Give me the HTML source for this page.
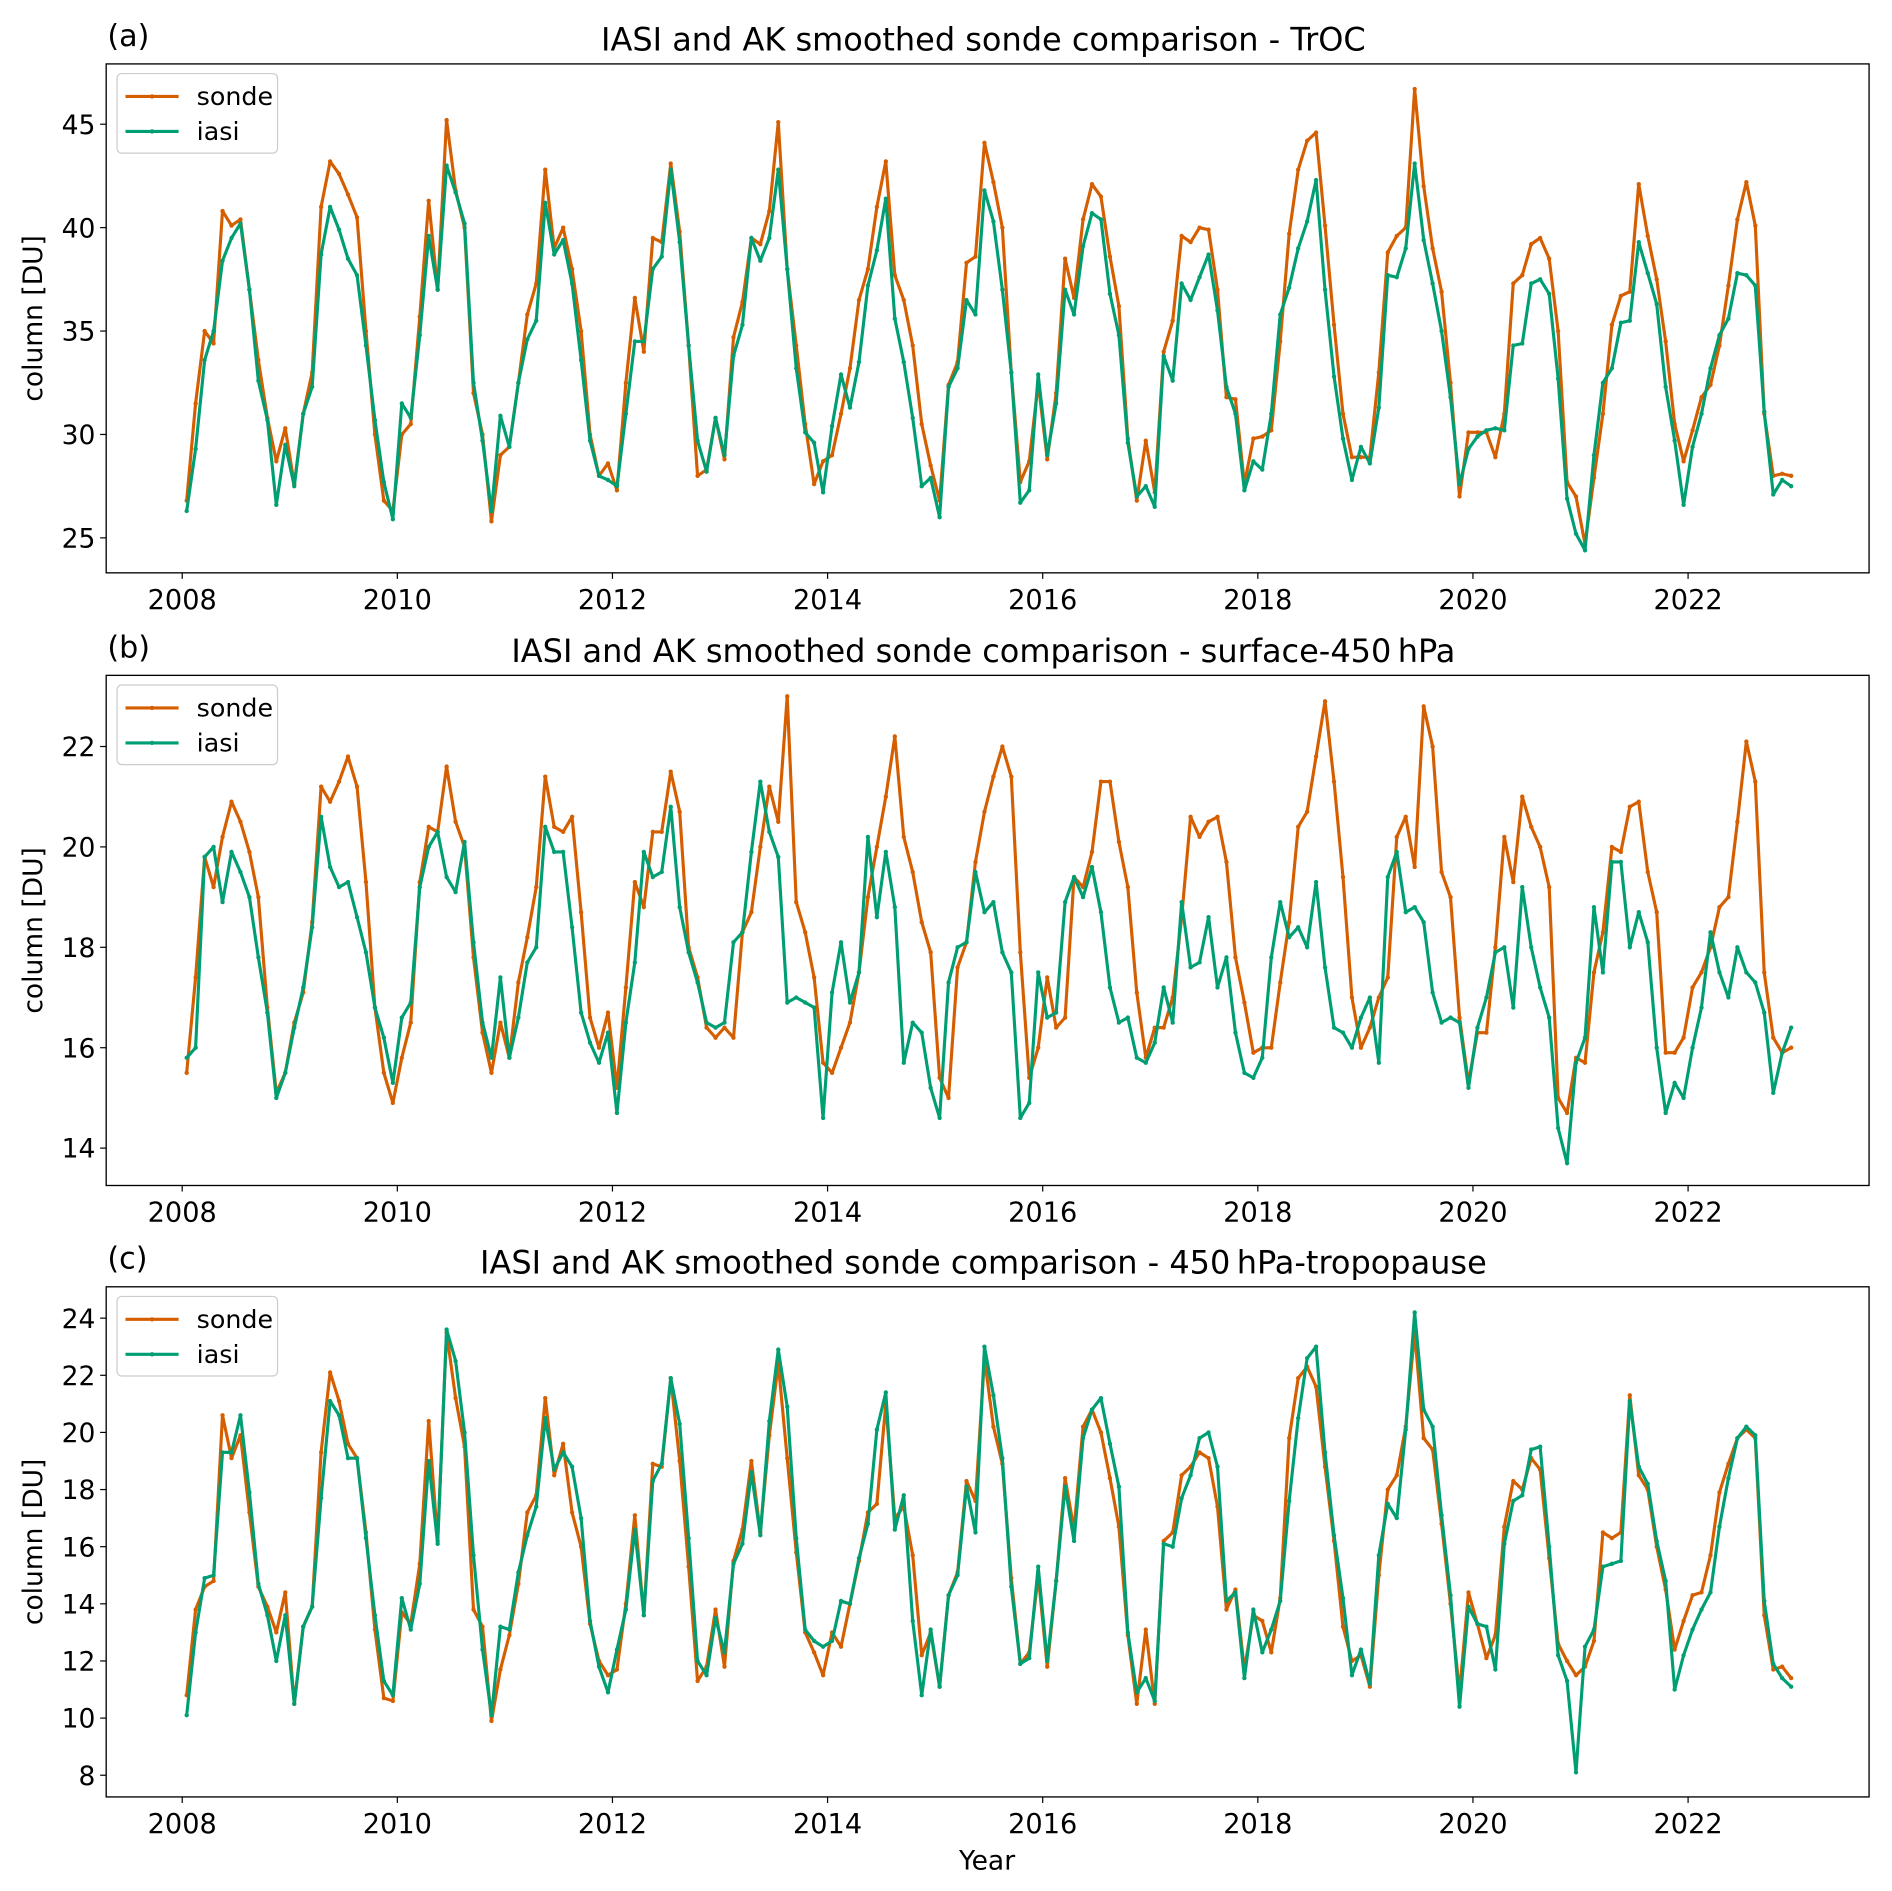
<!DOCTYPE html>
<html><head><meta charset="utf-8"><style>
html,body{margin:0;padding:0;background:#fff}
svg{display:block}
text{font-family:"DejaVu Sans","Liberation Sans",sans-serif;fill:#000}
</style></head><body>
<svg id="fig" width="1892" height="1891" viewBox="0 0 1568 1568" preserveAspectRatio="none" xmlns="http://www.w3.org/2000/svg"></svg>
<script>
const years = [2008,2010,2012,2014,2016,2018,2020,2022];
const startYear = 2008;
const troTicks = [25,30,35,40,45];
const surfTicks = [14,16,18,20,22];
const upTicks = [8,10,12,14,16,18,20,22,24];
const troSonde = [
26.8,31.5,35.0,34.4,40.8,40.1,40.4,37.0,33.6,30.8,28.7,30.3,
27.6,31.0,33.0,41.0,43.2,42.6,41.6,40.5,35.0,30.0,26.8,26.3,
30.0,30.5,35.7,41.3,37.0,45.2,41.8,40.0,32.0,30.0,25.8,29.0,
29.4,32.5,35.8,37.3,42.8,39.0,40.0,38.0,35.0,30.0,28.0,28.6,
27.3,32.5,36.6,34.0,39.5,39.3,43.1,39.8,34.3,28.0,28.3,30.8,
28.8,34.7,36.4,39.5,39.2,40.8,45.1,38.0,34.3,30.5,27.6,28.7,
29.0,31.0,33.2,36.5,38.0,41.0,43.2,37.7,36.5,34.3,30.5,28.5,
26.8,32.4,33.5,38.3,38.6,44.1,42.2,40.0,33.0,27.7,28.7,32.5,
28.8,32.0,38.5,36.6,40.4,42.1,41.5,38.6,36.2,29.8,26.8,29.7,
27.2,34.0,35.5,39.6,39.3,40.0,39.9,37.0,31.8,31.7,27.6,29.8,
29.9,30.2,34.5,39.7,42.8,44.2,44.6,40.1,35.3,31.0,28.9,28.9,
28.9,33.0,38.8,39.6,40.0,46.7,42.0,39.0,36.9,32.5,27.0,30.1,
30.1,30.1,28.9,31.0,37.3,37.7,39.2,39.5,38.5,35.0,27.7,27.0,
24.7,27.9,31.0,35.3,36.7,36.9,42.1,39.6,37.5,34.5,30.5,28.7,
30.2,31.8,32.4,34.3,37.2,40.4,42.2,40.1,31.0,28.0,28.1,28.0];
const troIasi = [
26.3,29.3,33.6,35.0,38.4,39.5,40.2,37.0,32.6,30.7,26.6,29.5,
27.5,31.0,32.3,38.7,41.0,39.9,38.5,37.7,34.3,30.7,27.7,25.9,
31.5,30.8,34.8,39.6,37.0,43.0,41.7,40.2,32.5,29.7,26.3,30.9,
29.4,32.5,34.6,35.5,41.2,38.7,39.4,37.3,33.6,29.7,28.0,27.8,
27.5,31.0,34.5,34.5,38.0,38.6,42.8,39.3,34.3,29.7,28.2,30.8,
29.0,33.8,35.3,39.5,38.4,39.5,42.8,38.0,33.2,30.1,29.6,27.2,
30.4,32.9,31.3,33.5,37.2,38.9,41.4,35.6,33.5,30.8,27.5,27.9,
26.0,32.3,33.2,36.5,35.8,41.8,40.3,37.0,33.0,26.7,27.3,32.9,
29.0,31.5,37.0,35.8,39.1,40.7,40.4,36.8,34.8,29.6,27.0,27.5,
26.5,33.8,32.6,37.3,36.5,37.6,38.7,36.0,32.3,31.0,27.3,28.7,
28.3,31.0,35.8,37.1,39.0,40.3,42.3,37.0,32.8,29.8,27.8,29.4,
28.6,31.3,37.7,37.6,39.0,43.1,39.4,37.3,35.0,31.8,27.6,29.3,
29.9,30.2,30.3,30.2,34.3,34.4,37.3,37.5,36.8,32.7,26.9,25.2,
24.4,29.0,32.5,33.2,35.4,35.5,39.3,37.8,36.3,32.3,29.7,26.6,
29.4,31.0,33.2,34.8,35.6,37.8,37.7,37.2,31.1,27.1,27.8,27.5];
const surfSonde = [
15.5,17.4,19.8,19.2,20.2,20.9,20.5,19.9,19.0,16.8,15.1,15.5,
16.5,17.1,18.5,21.2,20.9,21.3,21.8,21.2,19.3,16.8,15.5,14.9,
15.8,16.5,19.3,20.4,20.3,21.6,20.5,20.0,17.8,16.3,15.5,16.5,
15.8,17.3,18.2,19.2,21.4,20.4,20.3,20.6,18.7,16.6,16.0,16.7,
15.2,17.2,19.3,18.8,20.3,20.3,21.5,20.7,18.0,17.4,16.4,16.2,
16.4,16.2,18.3,18.7,20.0,21.2,20.5,23.0,18.9,18.3,17.4,15.7,
15.5,16.0,16.5,17.5,19.0,20.0,21.0,22.2,20.2,19.5,18.5,17.9,
15.4,15.0,17.6,18.1,19.7,20.7,21.4,22.0,21.4,17.9,15.4,16.0,
17.4,16.4,16.6,19.4,19.2,19.9,21.3,21.3,20.1,19.2,17.1,15.8,
16.4,16.4,17.0,18.6,20.6,20.2,20.5,20.6,19.7,17.8,16.9,15.9,
16.0,16.0,17.3,18.5,20.4,20.7,21.8,22.9,21.3,19.4,17.0,16.0,
16.4,17.0,17.4,20.2,20.6,19.6,22.8,22.0,19.5,19.0,16.6,15.3,
16.3,16.3,18.0,20.2,19.3,21.0,20.4,20.0,19.2,15.0,14.7,15.8,
15.7,17.5,18.3,20.0,19.9,20.8,20.9,19.5,18.7,15.9,15.9,16.2,
17.2,17.5,18.0,18.8,19.0,20.5,22.1,21.3,17.5,16.2,15.9,16.0];
const surfIasi = [
15.8,16.0,19.8,20.0,18.9,19.9,19.5,19.0,17.8,16.7,15.0,15.5,
16.4,17.2,18.4,20.6,19.6,19.2,19.3,18.6,17.9,16.8,16.2,15.3,
16.6,16.9,19.2,20.0,20.3,19.4,19.1,20.1,18.1,16.5,15.8,17.4,
15.8,16.6,17.7,18.0,20.4,19.9,19.9,18.4,16.7,16.1,15.7,16.3,
14.7,16.5,17.7,19.9,19.4,19.5,20.8,18.8,17.9,17.3,16.5,16.4,
16.5,18.1,18.3,19.9,21.3,20.3,19.8,16.9,17.0,16.9,16.8,14.6,
17.1,18.1,16.9,17.5,20.2,18.6,19.9,18.8,15.7,16.5,16.3,15.2,
14.6,17.3,18.0,18.1,19.5,18.7,18.9,17.9,17.5,14.6,14.9,17.5,
16.6,16.7,18.9,19.4,19.0,19.6,18.7,17.2,16.5,16.6,15.8,15.7,
16.1,17.2,16.5,18.9,17.6,17.7,18.6,17.2,17.8,16.3,15.5,15.4,
15.8,17.8,18.9,18.2,18.4,18.0,19.3,17.6,16.4,16.3,16.0,16.6,
17.0,15.7,19.4,19.9,18.7,18.8,18.5,17.1,16.5,16.6,16.5,15.2,
16.4,17.0,17.9,18.0,16.8,19.2,18.0,17.2,16.6,14.4,13.7,15.7,
16.2,18.8,17.5,19.7,19.7,18.0,18.7,18.1,16.0,14.7,15.3,15.0,
16.0,16.8,18.3,17.5,17.0,18.0,17.5,17.3,16.7,15.1,15.9,16.4];
const upSonde = [
10.8,13.8,14.6,14.8,20.6,19.1,19.9,17.2,14.6,13.9,13.0,14.4,
10.5,13.2,13.9,19.3,22.1,21.1,19.6,19.1,16.5,13.1,10.7,10.6,
13.7,13.3,15.4,20.4,16.2,23.5,21.2,19.5,13.8,13.2,9.9,11.7,
12.9,14.7,17.2,17.8,21.2,18.5,19.6,17.2,16.0,13.3,12.0,11.5,
11.7,14.0,17.1,13.6,18.9,18.8,21.9,19.0,15.3,11.3,11.8,13.8,
11.8,15.5,16.6,19.0,16.5,19.9,22.4,19.1,15.8,13.0,12.3,11.5,
13.0,12.5,14.0,15.5,17.2,17.5,21.0,17.0,17.4,15.7,12.2,13.0,
11.1,14.3,15.1,18.3,17.6,22.6,20.2,18.9,14.9,11.9,12.3,15.0,
11.8,14.8,18.4,16.6,20.2,20.8,20.0,18.4,16.7,12.9,10.5,13.1,
10.5,16.2,16.5,18.5,18.8,19.3,19.1,17.4,13.8,14.5,11.7,13.6,
13.4,12.3,14.2,19.8,21.9,22.3,21.6,18.8,16.2,13.2,12.0,12.2,
11.1,15.0,18.0,18.5,20.2,23.5,19.8,19.4,16.8,14.0,10.9,14.4,
13.3,12.1,12.9,16.7,18.3,18.0,19.1,18.7,15.6,12.6,12.0,11.5,
11.8,12.7,16.5,16.3,16.5,21.3,18.5,18.0,16.0,14.5,12.4,13.4,
14.3,14.4,15.7,17.9,18.9,19.8,20.1,19.8,13.6,11.7,11.8,11.4];
const upIasi = [
10.1,13.0,14.9,15.0,19.3,19.3,20.6,17.9,14.7,13.6,12.0,13.6,
10.5,13.2,13.9,17.7,21.1,20.6,19.1,19.1,16.3,13.6,11.3,10.8,
14.2,13.1,14.7,19.0,16.1,23.6,22.5,20.0,15.7,12.4,10.1,13.2,
13.1,15.1,16.4,17.4,20.5,18.7,19.3,18.8,17.0,13.4,11.8,10.9,
12.4,13.8,16.6,13.6,18.3,18.9,21.9,20.3,16.3,12.0,11.5,13.5,
12.3,15.4,16.1,18.6,16.4,20.4,22.9,20.9,16.3,13.1,12.7,12.5,
12.7,14.1,14.0,15.6,16.8,20.1,21.4,16.6,17.8,13.4,10.8,13.1,
11.1,14.3,15.0,18.1,16.5,23.0,21.3,19.1,14.6,11.9,12.1,15.3,
12.0,14.8,18.1,16.2,19.8,20.8,21.2,19.6,18.1,13.0,10.9,11.4,
10.6,16.1,16.0,17.7,18.5,19.8,20.0,18.8,14.1,14.4,11.4,13.8,
12.3,13.1,14.1,17.6,20.5,22.6,23.0,19.3,16.4,14.2,11.5,12.4,
11.2,15.7,17.5,17.0,20.1,24.2,20.8,20.2,17.1,14.3,10.4,13.9,
13.3,13.2,11.7,16.1,17.6,17.8,19.4,19.5,16.0,12.2,11.3,8.1,
12.5,13.1,15.3,15.4,15.5,21.1,18.8,18.2,16.2,14.8,11.0,12.2,
13.1,13.8,14.4,16.7,18.4,19.8,20.2,19.9,14.1,11.9,11.4,11.1];

const NS = "http://www.w3.org/2000/svg";
const svg = document.getElementById('fig');
const SONDE = '#d55e00', IASI = '#009e73';
function mk(tag, attrs, parent){const e=document.createElementNS(NS,tag);for(const k in attrs)e.setAttribute(k,attrs[k]);(parent||svg).appendChild(e);return e;}
function xScale(t){return 151 + (t-2008)*(1399-151)/14;}

const panels = [
 {key:'a',label:'(a)',title:'IASI and AK smoothed sonde comparison - TrOC',top:53,bot:475,v1:45,y1:103,v0:25,y0:446,ticks:troTicks,sonde:troSonde,iasi:troIasi},
 {key:'b',label:'(b)',title:'IASI and AK smoothed sonde comparison - surface-450\u2009hPa',top:560,bot:983,v1:22,y1:619,v0:14,y0:952,ticks:surfTicks,sonde:surfSonde,iasi:surfIasi},
 {key:'c',label:'(c)',title:'IASI and AK smoothed sonde comparison - 450\u2009hPa-tropopause',top:1067,bot:1490,v1:24,y1:1093,v0:8,y0:1472,ticks:upTicks,sonde:upSonde,iasi:upIasi}
];

panels.forEach(p=>{
  const g = mk('g',{});
  
  
  const yS = v => p.y0 + (v-p.v0)*(p.y1-p.y0)/(p.v1-p.v0);
  const L=88,R=1549;
  const t1 = mk('text',{x:815,y:p.top-11,'font-size':26.5,'text-anchor':'middle'},g);
  t1.textContent=p.title;
  
  
  const t2 = mk('text',{x:89,y:p.top-15,'font-size':25},g);
  t2.textContent=p.label;
  
  
  const yl = mk('text',{x:0,y:0,'font-size':22,'text-anchor':'middle',transform:`translate(35,${(p.top+p.bot)/2}) rotate(-90)`},g);
  yl.textContent='column [DU]';
  
  
  p.ticks.forEach(v=>{
    const y=yS(v);
    mk('line',{x1:L-5,x2:L,y1:y,y2:y,stroke:'#000','stroke-width':1},g);
    const t=mk('text',{x:L-9,y:y+8,'font-size':22,'text-anchor':'end'},g);
    t.textContent=v;
    
    
  });
  years.forEach(yr=>{
    const x=xScale(yr);
    mk('line',{x1:x,x2:x,y1:p.bot,y2:p.bot+5,stroke:'#000','stroke-width':1},g);
    const t=mk('text',{x:x,y:p.bot+30,'font-size':22.5,'text-anchor':'middle'},g);
    t.textContent=yr;
    
    
  });
  [[p.sonde,SONDE,'sonde'],[p.iasi,IASI,'iasi']].forEach(([arr,col,nm])=>{
    const pts = arr.map((v,i)=>[xScale(startYear+(i+0.5)/12), yS(v)]);
    const pl = mk('polyline',{points:pts.map(q=>q[0].toFixed(1)+','+q[1].toFixed(1)).join(' '),fill:'none',stroke:col,'stroke-width':2.6,'stroke-linejoin':'round'},g);
    
    
    pts.forEach(q=>{
      const c=mk('circle',{cx:q[0],cy:q[1],r:1.8,fill:col},g);
      
      
    });
  });
  const fr = mk('rect',{x:L,y:p.top,width:R-L,height:p.bot-p.top,fill:'none',stroke:'#000','stroke-width':1.1},g);
  
  
  const lg = mk('g',{},g);
  
  
  const ly=p.top;
  mk('rect',{x:97,y:ly+8,width:133,height:66,rx:4,fill:'#fff','fill-opacity':0.8,stroke:'#ccc','stroke-width':1},lg);
  [['sonde',SONDE,ly+27],['iasi',IASI,ly+56]].forEach(([nm,col,yy])=>{
    mk('line',{x1:104,x2:148,y1:yy,y2:yy,stroke:col,'stroke-width':2.6},lg);
    mk('circle',{cx:126,cy:yy,r:1.8,fill:col},lg);
    const t=mk('text',{x:163,y:yy+7,'font-size':21},lg);
    t.textContent=nm;
    
    
  });
});
const xt = mk('text',{x:818,y:1550,'font-size':22,'text-anchor':'middle'});
xt.textContent='Year';


</script>
</body></html>
